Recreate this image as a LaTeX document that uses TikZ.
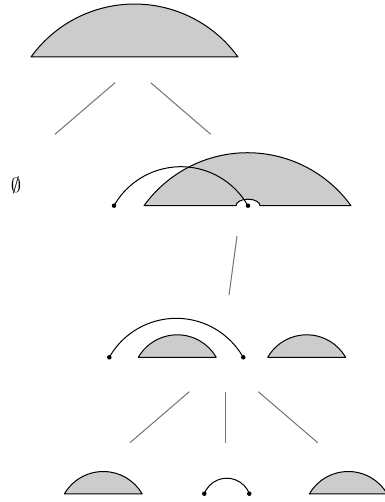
\documentclass[tikz,border=0pt]{standalone}
\usepackage{amsmath,amssymb}
\usepackage{tikz}
\usetikzlibrary{positioning}

\begin{document}
\begin{tikzpicture}[
  x=1pt, y=1pt,
  seg/.style={draw, fill=black!20, line width=1pt, line join=round},
  chord/.style={draw, line width=1pt},
  edge/.style={draw=black!55, line width=1pt},
  endpt/.style={circle, fill=black, inner sep=0pt, minimum size=4.5pt}
]
\useasboundingbox (0,0) rectangle (384,502);

% Root
\draw[seg] (31,445) arc[start angle=144.2, end angle=35.8, radius=127.6] -- cycle;

% Tree edges, level 1
\coordinate (r1) at (115,419.3);  \coordinate (l1) at (55,367.7);
\coordinate (r2) at (150.7,419.3); \coordinate (l2) at (210.7,367.7);
\draw[edge] (r1) -- (l1);
\draw[edge] (r2) -- (l2);

% Level 1 - left child
\node (empty) at (16,317) {\huge $\emptyset$};

% Level 1 - right child
\draw[seg] (144,296.3) arc[start angle=144.2, end angle=35.8, radius=127.6]
  -- (260,296.3) arc[start angle=0, end angle=180, x radius=12, y radius=6.5]
  -- cycle;
\node[endpt] (a1) at (114,296.3) {};
\node[endpt] (a2) at (248,296.3) {};
\draw[chord] (a1.center) arc[start angle=150.4, end angle=29.6, radius=77];

% Tree edge, level 2
\coordinate (r3) at (237,266); \coordinate (l3) at (229,207);
\draw[edge] (r3) -- (l3);

% Level 2
\node[endpt] (b1) at (109.3,144.7) {};
\node[endpt] (b2) at (243.3,144.7) {};
\draw[chord] (b1.center) arc[start angle=150.4, end angle=29.6, radius=77];
\draw[seg] (138.3,144.7) arc[start angle=150, end angle=30, radius=45] -- cycle;
\draw[seg] (267.7,144.7) arc[start angle=150, end angle=30, radius=45] -- cycle;

% Tree edges, level 3
\coordinate (r4) at (189.3,110.3); \coordinate (l4) at (130,59.3);
\coordinate (r5) at (225.7,110.3); \coordinate (l5) at (225.7,59.3);
\coordinate (r6) at (258.3,110.3); \coordinate (l6) at (317.7,59.3);
\draw[edge] (r4) -- (l4);
\draw[edge] (r5) -- (l5);
\draw[edge] (r6) -- (l6);

% Level 3
\draw[seg] (64.3,8) arc[start angle=150, end angle=30, radius=45] -- cycle;
\node[endpt] (c1) at (204.3,8.3) {};
\node[endpt] (c2) at (249.3,8.3) {};
\draw[chord] (c1.center) arc[start angle=159.1, end angle=20.9, radius=24.1];
\draw[seg] (309.3,8) arc[start angle=150, end angle=30, radius=45] -- cycle;

\end{tikzpicture}
\end{document}
